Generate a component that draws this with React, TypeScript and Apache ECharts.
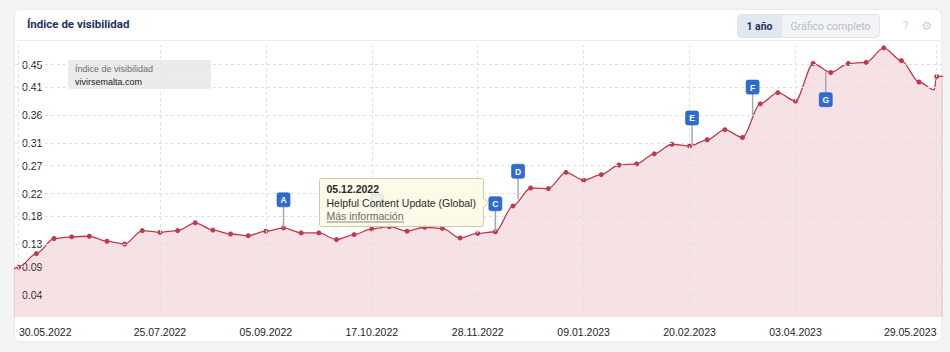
import React, { useEffect, useRef } from 'react';
import * as echarts from 'echarts';

const DAY = 86400000;
const ts = (s: string) => {
  const [y, m, d] = s.split('-').map(Number);
  return Date.UTC(y, m - 1, d);
};

// weekly dates
const weekDates = [
  '2022-05-30', '2022-06-06', '2022-06-13', '2022-06-20', '2022-06-27', '2022-07-04', '2022-07-11',
  '2022-07-18', '2022-07-25', '2022-08-01', '2022-08-08', '2022-08-15', '2022-08-22', '2022-08-29',
  '2022-09-05', '2022-09-12', '2022-09-19', '2022-09-26', '2022-10-03', '2022-10-10', '2022-10-17',
  '2022-10-24', '2022-10-31', '2022-11-07', '2022-11-14', '2022-11-21', '2022-11-28', '2022-12-05',
  '2022-12-12', '2022-12-19', '2022-12-26', '2023-01-02', '2023-01-09', '2023-01-16', '2023-01-23',
  '2023-01-30', '2023-02-06', '2023-02-13', '2023-02-20', '2023-02-27', '2023-03-06', '2023-03-13',
  '2023-03-20', '2023-03-27', '2023-04-03', '2023-04-10', '2023-04-17', '2023-04-24', '2023-05-01',
  '2023-05-08', '2023-05-15', '2023-05-22', '2023-05-29',
];
const visibility = [
  0.089, 0.113, 0.140, 0.143, 0.144, 0.135, 0.130, 0.154, 0.151, 0.154, 0.168, 0.155, 0.148, 0.145,
  0.153, 0.159, 0.150, 0.150, 0.138, 0.147, 0.157, 0.161, 0.153, 0.160, 0.158, 0.141, 0.149, 0.152,
  0.198, 0.230, 0.229, 0.258, 0.244, 0.254, 0.271, 0.273, 0.291, 0.308, 0.305, 0.316, 0.334, 0.320,
  0.380, 0.400, 0.385, 0.452, 0.436, 0.452, 0.454, 0.480, 0.457, 0.419, 0.429,
];
// line segments visible just outside / between the weekly points (no dot drawn)
const edgeDates = ['2022-05-23', '2023-05-28', '2023-06-05'];
const edgeValues = [0.065, 0.405, 0.429];

const yTicks = [0.04, 0.09, 0.13, 0.18, 0.22, 0.27, 0.31, 0.36, 0.41, 0.45];
const xLabelDates = [
  '2022-05-30', '2022-07-25', '2022-09-05', '2022-10-17', '2022-11-28',
  '2023-01-09', '2023-02-20', '2023-04-03', '2023-05-29',
];

const eventLetters = ['A', 'B', 'C', 'D', 'E', 'F', 'G'];
const eventDates = ['2022-09-12', '2022-10-19', '2022-12-05', '2022-12-14', '2023-02-21', '2023-03-17', '2023-04-15'];
const eventValues = [0.159, 0.158, 0.152, 0.21, 0.305, 0.36, 0.4375];
const flagsBelow = ['G'];

const tipDate = '05.12.2022';
const tipTitle = 'Helpful Content Update (Global)';
const tipLink = 'Más información';

const LINE = '#c0394d';
const FONT = '"Liberation Sans", Arial, Helvetica, sans-serif';

const fmt = (v: number) => {
  const d = new Date(v);
  const p = (n: number) => String(n).padStart(2, '0');
  return `${p(d.getUTCDate())}.${p(d.getUTCMonth() + 1)}.${d.getUTCFullYear()}`;
};

export default function App() {
  const ref = useRef<HTMLDivElement>(null);
  useEffect(() => {
    if (!ref.current) return;
    const chart = echarts.init(ref.current, undefined, { renderer: 'svg' });

    const lineData: any[] = weekDates.map((d, i) => [ts(d), visibility[i]]);
    const extra = edgeDates.map((d, i) => ({ value: [ts(d), edgeValues[i]], symbol: 'none' }));
    const allData: any[] = [...lineData, ...extra].sort((a: any, b: any) => {
      const ta = Array.isArray(a) ? a[0] : a.value[0];
      const tb = Array.isArray(b) ? b[0] : b.value[0];
      return ta - tb;
    });

    const xFirst = ts(weekDates[0]);
    const xLast = ts(weekDates[weekDates.length - 1]);
    const labelTs = xLabelDates.map(ts);

    const option: any = {
      animation: false,
      grid: { left: 15, right: 9, top: 45, bottom: 35, containLabel: false, outerBoundsMode: 'none' },
      xAxis: {
        type: 'value',
        min: xFirst - 1.47 * DAY,
        max: xLast + 1.7 * DAY,
        axisLine: { show: false },
        axisTick: { show: false },
        splitLine: { show: false },
        axisLabel: {
          customValues: labelTs,
          margin: 9,
          color: '#1e1e1e',
          fontSize: 10.5,
          fontFamily: FONT,
          showMinLabel: true,
          showMaxLabel: true,
          formatter: (v: number) => {
            const s = fmt(v);
            if (v === labelTs[0]) return `{l|${s}}`;
            if (v === labelTs[labelTs.length - 1]) return `{r|${s}}`;
            return s;
          },
          rich: {
            l: { padding: [0, 0, 0, 53], fontSize: 10.5, fontFamily: FONT, color: '#1e1e1e' },
            r: { padding: [0, 53, 0, 0], fontSize: 10.5, fontFamily: FONT, color: '#1e1e1e' },
          },
        },
      },
      yAxis: {
        type: 'value',
        min: 0,
        max: 0.485,
        axisLine: { show: false },
        axisTick: { show: false },
        splitLine: { show: false },
        axisLabel: {
          customValues: yTicks,
          inside: true,
          margin: 7,
          color: '#1e1e1e',
          fontSize: 10.5,
          fontFamily: FONT,
          formatter: (v: number) => v.toFixed(2),
        },
      },
      series: [
        {
          type: 'line',
          z: 1,
          data: [],
          silent: true,
          markLine: {
            silent: true,
            symbol: 'none',
            label: { show: false },
            lineStyle: { color: '#e0e0e0', type: [3, 3], width: 1 },
            data: [
              ...yTicks.map((v) => ({ yAxis: v })),
              ...labelTs.map((t) => ({ xAxis: t })),
            ],
          },
        },
        {
          type: 'line',
          z: 2,
          data: allData,
          smooth: 0.3,
          smoothMonotone: 'x',
          clip: true,
          symbol: 'circle',
          symbolSize: 5,
          showSymbol: true,
          lineStyle: { color: LINE, width: 1.3 },
          itemStyle: { color: LINE },
          areaStyle: { color: 'rgba(192,57,77,0.21)' },
        },
        {
          type: 'custom',
          z: 5,
          clip: false,
          data: eventDates.map((d, i) => [ts(d), eventValues[i], i]),
          renderItem: (params: any, api: any) => {
            const i = api.value(2);
            const pt = api.coord([api.value(0), api.value(1)]);
            const below = flagsBelow.includes(eventLetters[i]);
            const stem = 21, bw = 13, bh = 14;
            const boxTop = below ? pt[1] + stem : pt[1] - stem - bh;
            return {
              type: 'group',
              children: [
                {
                  type: 'line',
                  shape: { x1: pt[0], y1: pt[1], x2: pt[0], y2: below ? boxTop : boxTop + bh },
                  style: { stroke: '#a8a8a8', lineWidth: 1.5 },
                },
                {
                  type: 'rect',
                  shape: { x: pt[0] - bw / 2, y: boxTop, width: bw, height: bh, r: 2 },
                  style: { fill: '#2e6cd1', stroke: '#2158b5', lineWidth: 0.6 },
                },
                {
                  type: 'text',
                  style: {
                    text: eventLetters[i], x: pt[0], y: boxTop + bh / 2 + 0.5,
                    align: 'center', verticalAlign: 'middle', fill: '#fff',
                    font: `bold 8.5px ${FONT}`,
                  },
                },
              ],
            };
          },
        },
      ],
      graphic: [
        {
          type: 'text', left: 27, top: 18, z: 10,
          style: { text: 'Índice de visibilidad', fill: '#1d3461', font: `bold 11.5px Roboto, ${FONT}` },
        },
        {
          type: 'rect', z: 10,
          shape: { x: 737.5, y: 14.5, width: 142, height: 23, r: 4 },
          style: { fill: '#f3f4f6', stroke: '#e1e4e9', lineWidth: 1 },
        },
        {
          type: 'rect', z: 11,
          shape: { x: 738, y: 15, width: 44, height: 22, r: [3.5, 0, 0, 3.5] },
          style: { fill: '#e2e8f1' },
        },
        {
          type: 'text', z: 12, x: 759.5, y: 26,
          style: { text: '1 año', fill: '#1d3461', font: `bold 10.5px Roboto, ${FONT}`, align: 'center', verticalAlign: 'middle' },
        },
        {
          type: 'text', z: 12, x: 830.5, y: 26,
          style: { text: 'Gráfico completo', fill: '#b9bdc4', font: `10.5px Roboto, ${FONT}`, align: 'center', verticalAlign: 'middle' },
        },
        {
          type: 'text', z: 12, x: 905.5, y: 25.5,
          style: { text: '?', fill: '#cfcfcf', font: `10px ${FONT}`, align: 'center', verticalAlign: 'middle' },
        },
        {
          type: 'text', z: 12, x: 926.5, y: 25.5,
          style: { text: '⚙', fill: '#cfcfcf', font: `12px "DejaVu Sans"`, align: 'center', verticalAlign: 'middle' },
        },
        {
          type: 'line', z: 10,
          shape: { x1: 15, y1: 40.5, x2: 941, y2: 40.5 },
          style: { stroke: '#ececec', lineWidth: 1 },
        },
        {
          type: 'rect', z: 20,
          shape: { x: 68, y: 60, width: 143, height: 29, r: 2 },
          style: { fill: 'rgba(232,232,232,0.85)' },
        },
        {
          type: 'text', z: 21, x: 75, y: 69,
          style: { text: 'Índice de visibilidad', fill: '#6e6e6e', font: `9px ${FONT}`, verticalAlign: 'middle' },
        },
        {
          type: 'text', z: 21, x: 75, y: 81.5,
          style: { text: 'vivirsemalta.com', fill: '#1a1a1a', font: `9px ${FONT}`, verticalAlign: 'middle' },
        },
        {
          type: 'rect', z: 30,
          shape: { x: 319.5, y: 178.5, width: 164, height: 48, r: 2 },
          style: { fill: 'rgba(253,249,228,0.9)', stroke: '#cfc9ae', lineWidth: 1 },
        },
        {
          type: 'polygon', z: 31,
          shape: { points: [[483.5, 197.5], [488.5, 202.5], [483.5, 207.5]] },
          style: { fill: 'rgba(253,249,228,1)', stroke: '#cfc9ae', lineWidth: 1 },
        },
        {
          type: 'line', z: 32,
          shape: { x1: 483.5, y1: 198.5, x2: 483.5, y2: 206.5 },
          style: { stroke: 'rgba(253,249,228,1)', lineWidth: 1.5 },
        },
        {
          type: 'text', z: 33, x: 326.5, y: 189,
          style: { text: tipDate, fill: '#2a2a2a', font: `bold 10.5px ${FONT}`, verticalAlign: 'middle' },
        },
        {
          type: 'text', z: 33, x: 326.5, y: 202.5,
          style: { text: tipTitle, fill: '#2a2a2a', font: `10.5px ${FONT}`, verticalAlign: 'middle' },
        },
        {
          type: 'text', z: 33, x: 326.5, y: 216,
          style: { text: tipLink, fill: '#6a6a6a', font: `10.5px ${FONT}`, verticalAlign: 'middle' },
        },
        {
          type: 'line', z: 33,
          shape: { x1: 326.5, y1: 222, x2: 404, y2: 222 },
          style: { stroke: '#6a6a6a', lineWidth: 0.8 },
        },
      ],
    };
    chart.setOption(option);
    return () => chart.dispose();
  }, []);

  return (
    <div style={{ position: 'fixed', left: 0, top: 0, width: 950, height: 352, background: '#f4f4f4', overflow: 'hidden' }}>
      <div
        style={{
          position: 'absolute', left: 15, top: 10, width: 926, height: 331,
          background: '#fff', borderRadius: 5, boxShadow: '0 0 3px rgba(0,0,0,0.08)',
        }}
      />
      <div ref={ref} style={{ position: 'absolute', left: 0, top: 0, width: 950, height: 352 }} />
    </div>
  );
}
